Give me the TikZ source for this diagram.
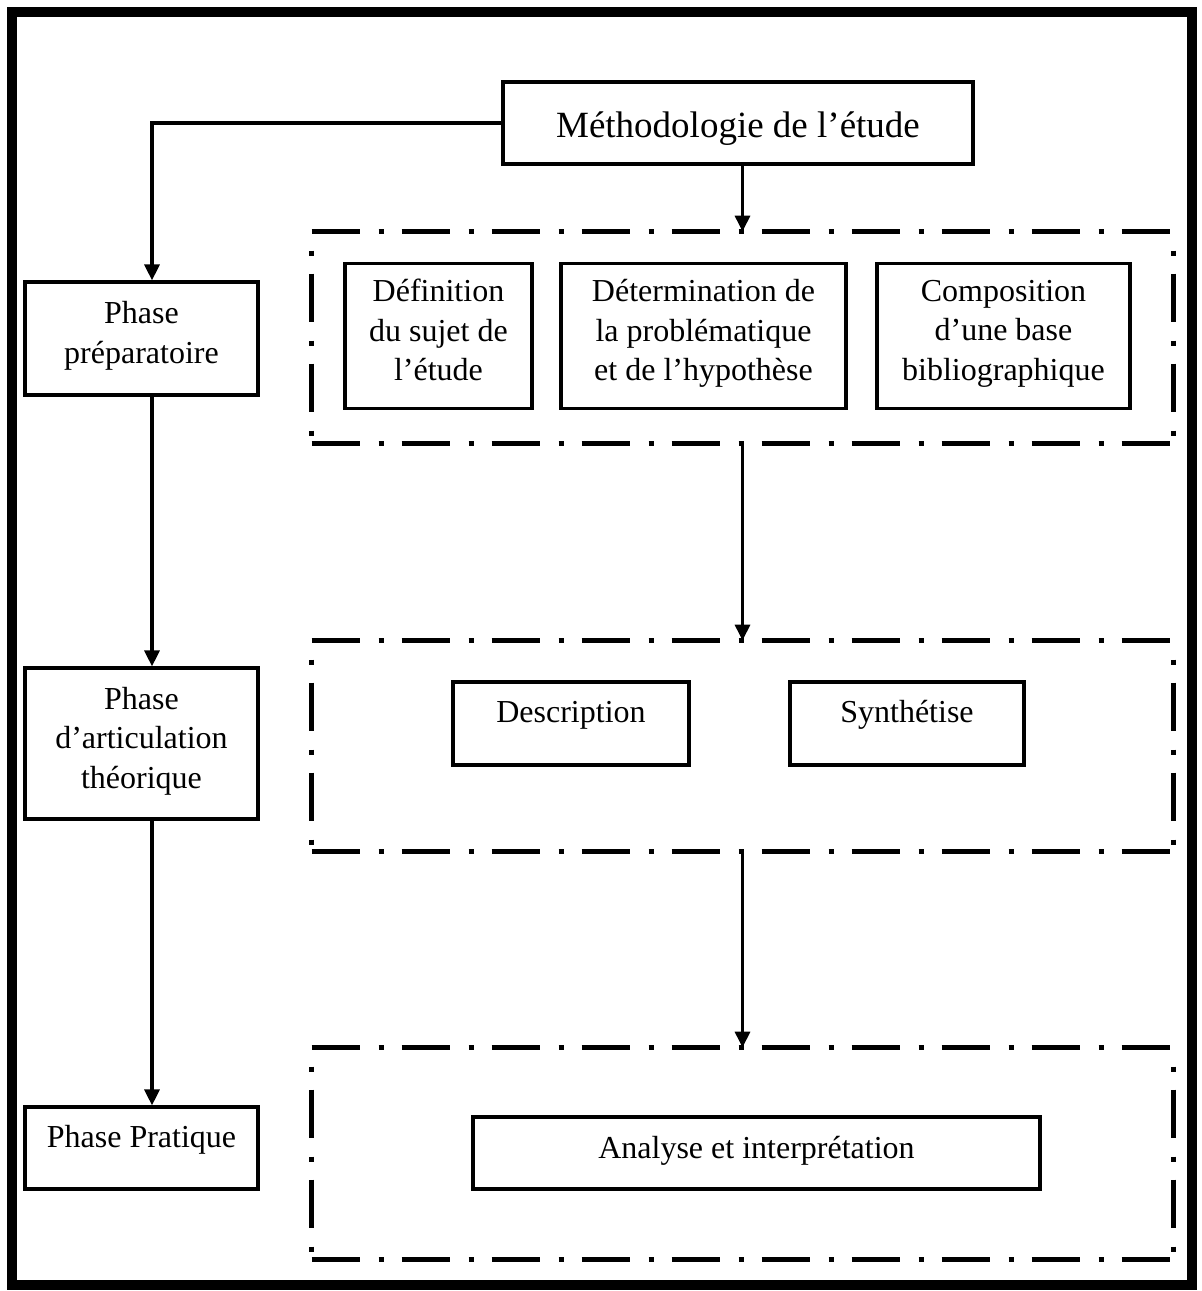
\documentclass[tikz,border=0pt]{standalone}
\usepackage{fontspec}
\setmainfont{Liberation Serif}
\usetikzlibrary{arrows.meta, positioning, calc}

\begin{document}
\begin{tikzpicture}[
    x=0.5pt, y=-0.5pt,
    >={Triangle[width=7.5pt,length=8pt]},
    box/.style={
        rectangle, draw, line width=1.6pt, align=center, inner sep=2pt,
        font=\fontsize{16}{19.7}\selectfont,
        execute at begin node=\strut, execute at end node=\strut
    },
    txthaut/.style={text height=12pt, text depth=#1},
    grp/.style={rectangle, draw=none, inner sep=0pt},
    dashdot/.style={line width=2.5pt, dash pattern=on 24pt off 9.5pt on 2.5pt off 9pt},
    fleche/.style={->, line width=1.6pt}
]
\useasboundingbox (0,0) rectangle (1201,1291);
\draw[line width=5pt] (12,12) rectangle (1192,1285);

% titre et phases
\node[box, minimum width=235pt, minimum height=41pt, font=\fontsize{18.5}{22}\selectfont,
      text height=14pt, text depth=0pt] (titre) at (738,123) {Méthodologie de l’étude};
\node[box, minimum width=116.5pt, minimum height=56.5pt] (prep) at (141.5,338.5) {Phase\\préparatoire};
\node[box, minimum width=116.5pt, minimum height=75.5pt] (artic) at (141.5,743.5) {Phase\\d’articulation\\théorique};
\node[box, minimum width=116.5pt, minimum height=41pt, txthaut=13pt] (prat) at (141.5,1148) {Phase Pratique};

% cadres
\node[grp, minimum width=430.5pt, minimum height=105.5pt] (g1) at (742.5,337.5) {};
\node[grp, minimum width=430.5pt, minimum height=105pt] (g2) at (742.5,746) {};
\node[grp, minimum width=430.5pt, minimum height=105.5pt] (g3) at (742.5,1153.5) {};

\node[box, minimum width=93.5pt, minimum height=72.5pt] (defin) at (438.5,336) {Définition\\du sujet de\\l’étude};
\node[box, minimum width=142.5pt, minimum height=72.5pt] (determ) at (703.5,336) {Détermination de\\la problématique\\et de l’hypothèse};
\node[box, minimum width=126.5pt, minimum height=72.5pt] (compo) at (1003.5,336) {Composition\\d’une base\\bibliographique};

\node[box, minimum width=118pt, minimum height=41.5pt, txthaut=13.5pt] (descr) at (571,723.5) {Description};
\node[box, minimum width=117pt, minimum height=41.5pt, txthaut=13.5pt] (synth) at (907,723.5) {Synthétise};

\node[box, minimum width=283.5pt, minimum height=36pt, txthaut=7pt] (analyse) at (756.5,1153) {Analyse et interprétation};

\foreach \g in {g1,g2,g3}{
    \draw[dashdot] (\g.north west) -- (\g.north east);
    \draw[dashdot] (\g.south west) -- (\g.south east);
    \draw[dashdot, dash phase=24pt] (\g.north west) -- (\g.south west);
    \draw[dashdot, dash phase=24pt] (\g.north east) -- (\g.south east);
}

% fleches
\draw[fleche] (titre.west) -| ([xshift=5.25pt]prep.north);
\draw[fleche] ([xshift=5.25pt]prep.south) -- ([xshift=5.25pt]artic.north);
\draw[fleche] ([xshift=5.25pt]artic.south) -- ([xshift=5.25pt]prat.north);
\draw[fleche] (g1.north |- titre.south) -- (g1.north);
\draw[fleche] (g1.south) -- (g2.north);
\draw[fleche] (g2.south) -- (g3.north);

\end{tikzpicture}
\end{document}
